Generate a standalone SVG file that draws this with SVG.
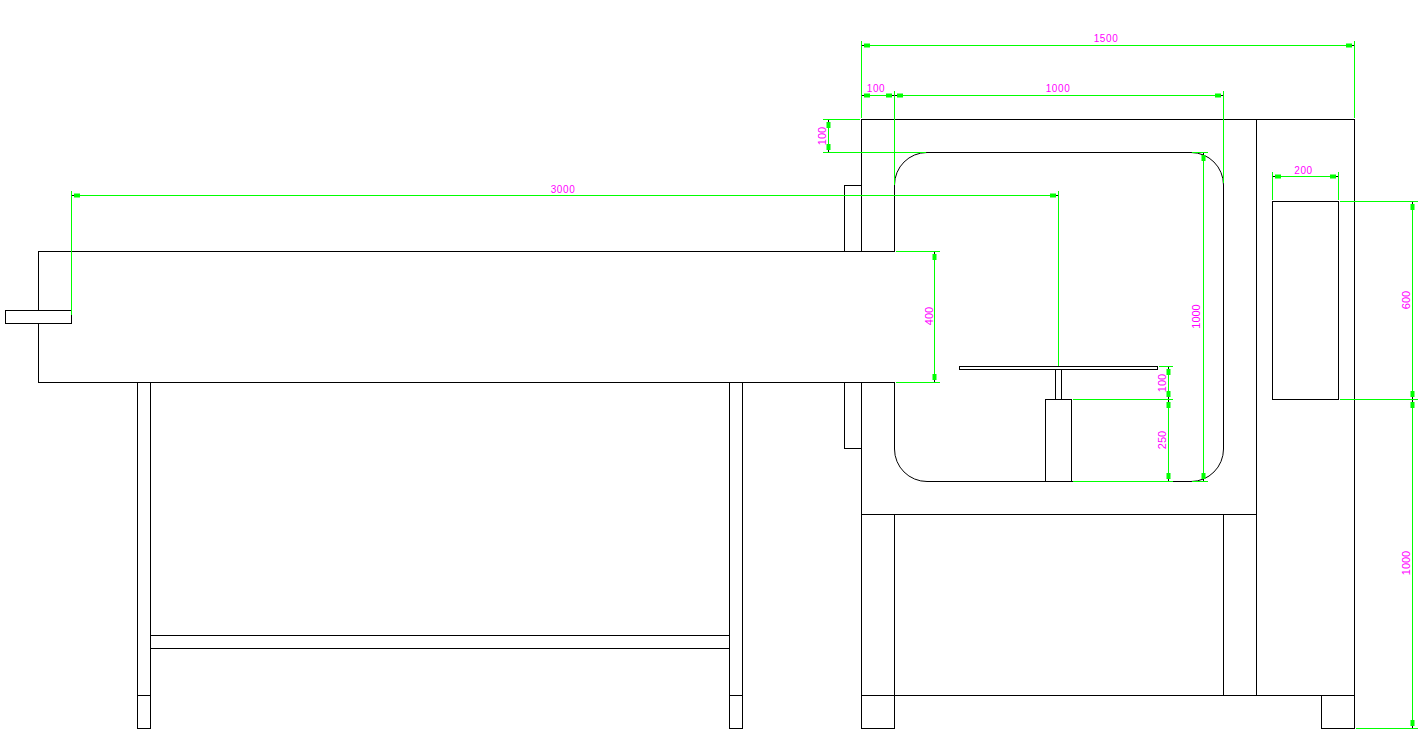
<svg xmlns="http://www.w3.org/2000/svg" width="1423" height="752" viewBox="0 0 1423 752">
<style>
.k{fill:none;stroke:#000;stroke-width:1}
.g{fill:none;stroke:#00ff00;stroke-width:1}
.d{fill:none;stroke:#00ff00;stroke-width:1;marker-start:url(#a);marker-end:url(#a)}
.t{font-family:"Liberation Sans",Arial,sans-serif;font-size:10px;letter-spacing:.6px;fill:#ff00ff;text-anchor:middle}
.r{font-size:11px;letter-spacing:0}
</style>
<defs>
<marker id="a" markerUnits="userSpaceOnUse" markerWidth="12" markerHeight="6" refX="0" refY="0" orient="auto-start-reverse" viewBox="-12 -3 12 6"><path d="M-8.5 -2H-2.5V2H-8.5Z" fill="#00ff00"/><path d="M-2.5 -.5H-.5V.5H-2.5Z" fill="#000"/></marker>
</defs>
<rect width="1423" height="752" fill="#fff"/>
<g id="conveyor" class="k" shape-rendering="crispEdges">
<path d="M894.5 251.5H38.5V382.5H894.5"/>
<rect x="5.5" y="310.5" width="66" height="13" fill="#fff"/>
<path d="M137.5 382.5V728.5H150.5V382.5M137.5 695.5H150.5"/>
<path d="M729.5 382.5V728.5H742.5V382.5M729.5 695.5H742.5"/>
<path d="M150.5 635.5H729.5M150.5 648.5H729.5"/>
<path d="M844.5 251.5V185.5H861.5M844.5 382.5V448.5H861.5"/>
</g>
<g id="chamber" class="k">
<path shape-rendering="crispEdges" d="M861.5 251.5V119.5H1354.5V728.5H1321.5V695.5M861.5 382.5V728.5H894.5V514.5M1256.5 119.5V695.5M861.5 514.5H1256.5M861.5 695.5H1354.5M1223.5 514.5V695.5"/>
<path d="M894.5 251.5V185A32.5 32.5 0 0 1 927 152.5H1191A32.5 32.5 0 0 1 1223.5 185V449A32.5 32.5 0 0 1 1191 481.5H927A32.5 32.5 0 0 1 894.5 449V382.5"/>
</g>
<g id="panel" class="k" shape-rendering="crispEdges"><rect x="1272.5" y="201.5" width="66" height="198"/></g>
<g id="turntable" class="k" shape-rendering="crispEdges">
<rect x="959.5" y="366.5" width="198" height="3"/>
<path d="M1055.5 369.5V399.5M1061.5 369.5V399.5"/>
<rect x="1045.5" y="399.5" width="26" height="82"/>
</g>
<g id="connectors" shape-rendering="crispEdges">
<path class="g" d="M861.5 41V117.5M1354.5 41V118M894.5 91V185M1223.5 91V183M823 119.5H860M823 152.5H926M71.5 191V315M1058.5 191V366M896 251.5H940M896 382.5H940M1192 152.5H1208M1192 481.5H1208M1159 366.5H1173M1073 399.5H1173M1073 481.5H1173M1272.5 172V199.5M1338.5 172V199.5M1340 201.5H1418M1340 399.5H1418M1356 728.5H1418"/>
<path class="d" d="M861.5 45.5H1354.5"/>
<path class="d" d="M861.5 95.5H894.5"/>
<path class="d" d="M894.5 95.5H1223.5"/>
<path class="d" d="M828.5 119.5V152.5"/>
<path class="d" d="M71.5 195.5H1058.5"/>
<path class="d" d="M934.5 251.5V382.5"/>
<path class="d" d="M1203.5 152.5V481.5"/>
<path class="d" d="M1168.5 366.5V399.5"/>
<path class="d" d="M1168.5 399.5V481.5"/>
<path class="d" d="M1272.5 176.5H1338.5"/>
<path class="d" d="M1412.5 201.5V399.5"/>
<path class="d" d="M1412.5 399.5V728.5"/>
</g>
<g id="labels">
<text class="t" x="1106" y="42">1500</text>
<text class="t" x="876" y="92">100</text>
<text class="t" x="1058" y="92">1000</text>
<text class="t" x="563" y="193">3000</text>
<text class="t" x="1303.5" y="174">200</text>
<text class="t r" transform="translate(826 136) rotate(-90)">100</text>
<text class="t r" transform="translate(932.5 316) rotate(-90)">400</text>
<text class="t r" transform="translate(1200 316.5) rotate(-90)">1000</text>
<text class="t r" transform="translate(1165.5 383) rotate(-90)">100</text>
<text class="t r" transform="translate(1165.5 440) rotate(-90)">250</text>
<text class="t r" transform="translate(1410 300) rotate(-90)">600</text>
<text class="t r" transform="translate(1410 563) rotate(-90)">1000</text>
</g>
</svg>
